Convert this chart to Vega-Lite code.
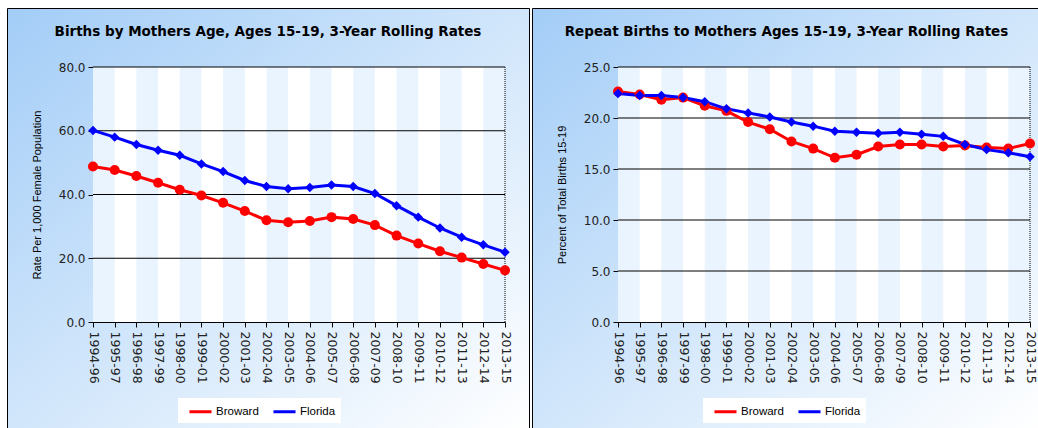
{
  "$schema": "https://vega.github.io/schema/vega-lite/v6.json",
  "background": "white",
  "padding": {"left": 6, "top": 7, "right": 0, "bottom": 0},
  "spacing": 1,
  "datasets": {
    "births": [
      {"period": "1994-96", "area": "Broward", "rate": 48.8},
      {"period": "1995-97", "area": "Broward", "rate": 47.7},
      {"period": "1996-98", "area": "Broward", "rate": 45.8},
      {"period": "1997-99", "area": "Broward", "rate": 43.7},
      {"period": "1998-00", "area": "Broward", "rate": 41.5},
      {"period": "1999-01", "area": "Broward", "rate": 39.7},
      {"period": "2000-02", "area": "Broward", "rate": 37.4},
      {"period": "2001-03", "area": "Broward", "rate": 34.8},
      {"period": "2002-04", "area": "Broward", "rate": 31.9},
      {"period": "2003-05", "area": "Broward", "rate": 31.3},
      {"period": "2004-06", "area": "Broward", "rate": 31.7},
      {"period": "2005-07", "area": "Broward", "rate": 32.9},
      {"period": "2006-08", "area": "Broward", "rate": 32.3},
      {"period": "2007-09", "area": "Broward", "rate": 30.4},
      {"period": "2008-10", "area": "Broward", "rate": 27.1},
      {"period": "2009-11", "area": "Broward", "rate": 24.6},
      {"period": "2010-12", "area": "Broward", "rate": 22.2},
      {"period": "2011-13", "area": "Broward", "rate": 20.2},
      {"period": "2012-14", "area": "Broward", "rate": 18.2},
      {"period": "2013-15", "area": "Broward", "rate": 16.2},
      {"period": "1994-96", "area": "Florida", "rate": 60.1},
      {"period": "1995-97", "area": "Florida", "rate": 58.0},
      {"period": "1996-98", "area": "Florida", "rate": 55.7},
      {"period": "1997-99", "area": "Florida", "rate": 53.9},
      {"period": "1998-00", "area": "Florida", "rate": 52.3},
      {"period": "1999-01", "area": "Florida", "rate": 49.6},
      {"period": "2000-02", "area": "Florida", "rate": 47.2},
      {"period": "2001-03", "area": "Florida", "rate": 44.4},
      {"period": "2002-04", "area": "Florida", "rate": 42.5},
      {"period": "2003-05", "area": "Florida", "rate": 41.8},
      {"period": "2004-06", "area": "Florida", "rate": 42.2},
      {"period": "2005-07", "area": "Florida", "rate": 43.0},
      {"period": "2006-08", "area": "Florida", "rate": 42.5},
      {"period": "2007-09", "area": "Florida", "rate": 40.3},
      {"period": "2008-10", "area": "Florida", "rate": 36.5},
      {"period": "2009-11", "area": "Florida", "rate": 32.9},
      {"period": "2010-12", "area": "Florida", "rate": 29.5},
      {"period": "2011-13", "area": "Florida", "rate": 26.6},
      {"period": "2012-14", "area": "Florida", "rate": 24.2},
      {"period": "2013-15", "area": "Florida", "rate": 21.9}
    ],
    "repeat": [
      {"period": "1994-96", "area": "Broward", "rate": 22.6},
      {"period": "1995-97", "area": "Broward", "rate": 22.3},
      {"period": "1996-98", "area": "Broward", "rate": 21.8},
      {"period": "1997-99", "area": "Broward", "rate": 22.0},
      {"period": "1998-00", "area": "Broward", "rate": 21.2},
      {"period": "1999-01", "area": "Broward", "rate": 20.7},
      {"period": "2000-02", "area": "Broward", "rate": 19.6},
      {"period": "2001-03", "area": "Broward", "rate": 18.9},
      {"period": "2002-04", "area": "Broward", "rate": 17.7},
      {"period": "2003-05", "area": "Broward", "rate": 17.0},
      {"period": "2004-06", "area": "Broward", "rate": 16.1},
      {"period": "2005-07", "area": "Broward", "rate": 16.4},
      {"period": "2006-08", "area": "Broward", "rate": 17.2},
      {"period": "2007-09", "area": "Broward", "rate": 17.4},
      {"period": "2008-10", "area": "Broward", "rate": 17.4},
      {"period": "2009-11", "area": "Broward", "rate": 17.2},
      {"period": "2010-12", "area": "Broward", "rate": 17.3},
      {"period": "2011-13", "area": "Broward", "rate": 17.1},
      {"period": "2012-14", "area": "Broward", "rate": 17.0},
      {"period": "2013-15", "area": "Broward", "rate": 17.5},
      {"period": "1994-96", "area": "Florida", "rate": 22.4},
      {"period": "1995-97", "area": "Florida", "rate": 22.2},
      {"period": "1996-98", "area": "Florida", "rate": 22.2},
      {"period": "1997-99", "area": "Florida", "rate": 22.0},
      {"period": "1998-00", "area": "Florida", "rate": 21.6},
      {"period": "1999-01", "area": "Florida", "rate": 20.9},
      {"period": "2000-02", "area": "Florida", "rate": 20.5},
      {"period": "2001-03", "area": "Florida", "rate": 20.1},
      {"period": "2002-04", "area": "Florida", "rate": 19.6},
      {"period": "2003-05", "area": "Florida", "rate": 19.2},
      {"period": "2004-06", "area": "Florida", "rate": 18.7},
      {"period": "2005-07", "area": "Florida", "rate": 18.6},
      {"period": "2006-08", "area": "Florida", "rate": 18.5},
      {"period": "2007-09", "area": "Florida", "rate": 18.6},
      {"period": "2008-10", "area": "Florida", "rate": 18.4},
      {"period": "2009-11", "area": "Florida", "rate": 18.2},
      {"period": "2010-12", "area": "Florida", "rate": 17.4},
      {"period": "2011-13", "area": "Florida", "rate": 16.9},
      {"period": "2012-14", "area": "Florida", "rate": 16.6},
      {"period": "2013-15", "area": "Florida", "rate": 16.2}
    ],
    "stripes": [
      {"from": "1994-96", "to": "1995-97"},
      {"from": "1996-98", "to": "1997-99"},
      {"from": "1998-00", "to": "1999-01"},
      {"from": "2000-02", "to": "2001-03"},
      {"from": "2002-04", "to": "2003-05"},
      {"from": "2004-06", "to": "2005-07"},
      {"from": "2006-08", "to": "2007-09"},
      {"from": "2008-10", "to": "2009-11"},
      {"from": "2010-12", "to": "2011-13"},
      {"from": "2012-14", "to": "2013-15"}
    ],
    "gridBirths": [{"v": 20}, {"v": 40}, {"v": 60}, {"v": 80}],
    "gridRepeat": [{"v": 5}, {"v": 10}, {"v": 15}, {"v": 20}, {"v": 25}],
    "one": [{"k": 1}]
  },
  "hconcat": [
    {
      "width": 522,
      "height": 421,
      "title": {"text": "Births by Mothers Age, Ages 15-19, 3-Year Rolling Rates", "offset": -30},
      "layer": [
        {
          "data": {"name": "one"},
          "mark": {"type": "rect", "color": "white"},
          "encoding": {
            "x": {"datum": "1994-96", "type": "ordinal", "title": null,
              "scale": {"type": "point", "padding": 0, "range": [86, 498],
                "domain": ["1994-96","1995-97","1996-98","1997-99","1998-00","1999-01","2000-02","2001-03","2002-04","2003-05","2004-06","2005-07","2006-08","2007-09","2008-10","2009-11","2010-12","2011-13","2012-14","2013-15"]}},
            "x2": {"datum": "2013-15"},
            "y": {"datum": 0, "type": "quantitative", "title": "Rate Per 1,000 Female Population",
              "scale": {"domain": [0, 80], "range": [314, 59], "nice": false, "zero": true}},
            "y2": {"datum": 80}
          }
        },
        {
          "data": {"name": "stripes"},
          "mark": {"type": "rect", "color": "#eaf4fe"},
          "encoding": {
            "x": {"field": "from", "type": "ordinal", "title": null},
            "x2": {"field": "to"},
            "y": {"datum": 0, "type": "quantitative", "title": "Rate Per 1,000 Female Population"},
            "y2": {"datum": 80}
          }
        },
        {
          "data": {"name": "gridBirths"},
          "mark": {"type": "rule", "color": "black", "strokeWidth": 1},
          "encoding": {
            "x": {"datum": "1994-96", "type": "ordinal", "title": null},
            "x2": {"datum": "2013-15"},
            "y": {"field": "v", "type": "quantitative", "title": "Rate Per 1,000 Female Population"}
          }
        },
        {
          "data": {"name": "one"},
          "mark": {"type": "rule", "color": "black", "strokeDash": [1, 1], "strokeWidth": 1},
          "encoding": {
            "x": {"datum": "2013-15", "type": "ordinal", "title": null},
            "y": {"datum": 0, "type": "quantitative", "title": "Rate Per 1,000 Female Population"},
            "y2": {"datum": 80}
          }
        },
        {
          "data": {"name": "births"},
          "mark": {"type": "line", "strokeWidth": 3},
          "encoding": {
            "x": {"field": "period", "type": "ordinal", "title": null},
            "y": {"field": "rate", "type": "quantitative", "title": "Rate Per 1,000 Female Population",
              "axis": {"values": [0, 20, 40, 60, 80]}},
            "color": {"field": "area", "type": "nominal",
              "scale": {"domain": ["Broward", "Florida"], "range": ["#ff0000", "#0000ff"]},
              "legend": {"title": null, "symbolType": "M-0.29,0H2.86"}}
          }
        },
        {
          "data": {"name": "births"},
          "transform": [{"filter": "datum.area === 'Broward'"}],
          "mark": {"type": "point", "filled": true, "opacity": 1, "shape": "circle", "size": 100, "color": "#ff0000"},
          "encoding": {
            "x": {"field": "period", "type": "ordinal", "title": null},
            "y": {"field": "rate", "type": "quantitative", "title": "Rate Per 1,000 Female Population"}
          }
        },
        {
          "data": {"name": "births"},
          "transform": [{"filter": "datum.area === 'Florida'"}],
          "mark": {"type": "point", "filled": true, "opacity": 1, "shape": "diamond", "size": 90, "color": "#0000ff"},
          "encoding": {
            "x": {"field": "period", "type": "ordinal", "title": null},
            "y": {"field": "rate", "type": "quantitative", "title": "Rate Per 1,000 Female Population"}
          }
        }
      ]
    },
    {
      "width": 509,
      "height": 421,
      "title": {"text": "Repeat Births to Mothers Ages 15-19, 3-Year Rolling Rates", "offset": -30},
      "layer": [
        {
          "data": {"name": "one"},
          "mark": {"type": "rect", "color": "white"},
          "encoding": {
            "x": {"datum": "1994-96", "type": "ordinal", "title": null,
              "scale": {"type": "point", "padding": 0, "range": [86, 498],
                "domain": ["1994-96","1995-97","1996-98","1997-99","1998-00","1999-01","2000-02","2001-03","2002-04","2003-05","2004-06","2005-07","2006-08","2007-09","2008-10","2009-11","2010-12","2011-13","2012-14","2013-15"]}},
            "x2": {"datum": "2013-15"},
            "y": {"datum": 0, "type": "quantitative", "title": "Percent of Total Births 15-19",
              "scale": {"domain": [0, 25], "range": [314, 59], "nice": false, "zero": true}},
            "y2": {"datum": 25}
          }
        },
        {
          "data": {"name": "stripes"},
          "mark": {"type": "rect", "color": "#eaf4fe"},
          "encoding": {
            "x": {"field": "from", "type": "ordinal", "title": null},
            "x2": {"field": "to"},
            "y": {"datum": 0, "type": "quantitative", "title": "Percent of Total Births 15-19"},
            "y2": {"datum": 25}
          }
        },
        {
          "data": {"name": "gridRepeat"},
          "mark": {"type": "rule", "color": "black", "strokeWidth": 1},
          "encoding": {
            "x": {"datum": "1994-96", "type": "ordinal", "title": null},
            "x2": {"datum": "2013-15"},
            "y": {"field": "v", "type": "quantitative", "title": "Percent of Total Births 15-19"}
          }
        },
        {
          "data": {"name": "one"},
          "mark": {"type": "rule", "color": "black", "strokeDash": [1, 1], "strokeWidth": 1},
          "encoding": {
            "x": {"datum": "2013-15", "type": "ordinal", "title": null},
            "y": {"datum": 0, "type": "quantitative", "title": "Percent of Total Births 15-19"},
            "y2": {"datum": 25}
          }
        },
        {
          "data": {"name": "repeat"},
          "mark": {"type": "line", "strokeWidth": 3},
          "encoding": {
            "x": {"field": "period", "type": "ordinal", "title": null},
            "y": {"field": "rate", "type": "quantitative", "title": "Percent of Total Births 15-19",
              "axis": {"values": [0, 5, 10, 15, 20, 25]}},
            "color": {"field": "area", "type": "nominal",
              "scale": {"domain": ["Broward", "Florida"], "range": ["#ff0000", "#0000ff"]},
              "legend": {"title": null, "symbolType": "M-0.29,0H2.86"}}
          }
        },
        {
          "data": {"name": "repeat"},
          "transform": [{"filter": "datum.area === 'Broward'"}],
          "mark": {"type": "point", "filled": true, "opacity": 1, "shape": "circle", "size": 100, "color": "#ff0000"},
          "encoding": {
            "x": {"field": "period", "type": "ordinal", "title": null},
            "y": {"field": "rate", "type": "quantitative", "title": "Percent of Total Births 15-19"}
          }
        },
        {
          "data": {"name": "repeat"},
          "transform": [{"filter": "datum.area === 'Florida'"}],
          "mark": {"type": "point", "filled": true, "opacity": 1, "shape": "diamond", "size": 90, "color": "#0000ff"},
          "encoding": {
            "x": {"field": "period", "type": "ordinal", "title": null},
            "y": {"field": "rate", "type": "quantitative", "title": "Percent of Total Births 15-19"}
          }
        }
      ]
    }
  ],
  "resolve": {
    "scale": {"x": "independent", "y": "independent", "color": "independent"},
    "legend": {"color": "independent"}
  },
  "config": {
    "view": {
      "stroke": "black",
      "strokeWidth": 1,
      "fill": {"gradient": "linear", "x1": 0, "y1": 0, "x2": 1, "y2": 1,
        "stops": [{"offset": 0, "color": "#a3cdf7"}, {"offset": 1, "color": "#ffffff"}]}
    },
    "title": {"font": "DejaVu Sans", "fontSize": 13.5, "fontWeight": "bold", "color": "#000000", "anchor": "middle", "frame": "group"},
    "axis": {
      "zindex": 1,
      "labelFont": "DejaVu Sans",
      "labelFontSize": 12,
      "labelColor": "#222222",
      "tickColor": "#000000",
      "domainColor": "#000000",
      "tickSize": 5,
      "titleFont": "Liberation Sans",
      "titleFontSize": 11,
      "titleFontWeight": "normal",
      "titleColor": "#000000",
      "grid": false
    },
    "axisX": {"offset": -107, "labelAngle": 90, "labelPadding": 4, "labelFontSize": 12.5, "grid": false, "labelOverlap": false},
    "axisY": {"offset": -86, "domainDash": [1, 1], "labelPadding": 3, "titlePadding": 16, "grid": false, "format": ".1f"},
    "legend": {
      "orient": "none",
      "legendX": 171,
      "legendY": 390,
      "direction": "horizontal",
      "fillColor": "white",
      "padding": 5,
      "columnPadding": 8,
      "labelOffset": 16,
      "labelFont": "Liberation Sans",
      "labelFontSize": 11.5,
      "labelColor": "#000000",
      "symbolType": "M-0.29,0H2.86",
      "symbolSize": 196,
      "symbolStrokeWidth": 3
    }
  }
}
